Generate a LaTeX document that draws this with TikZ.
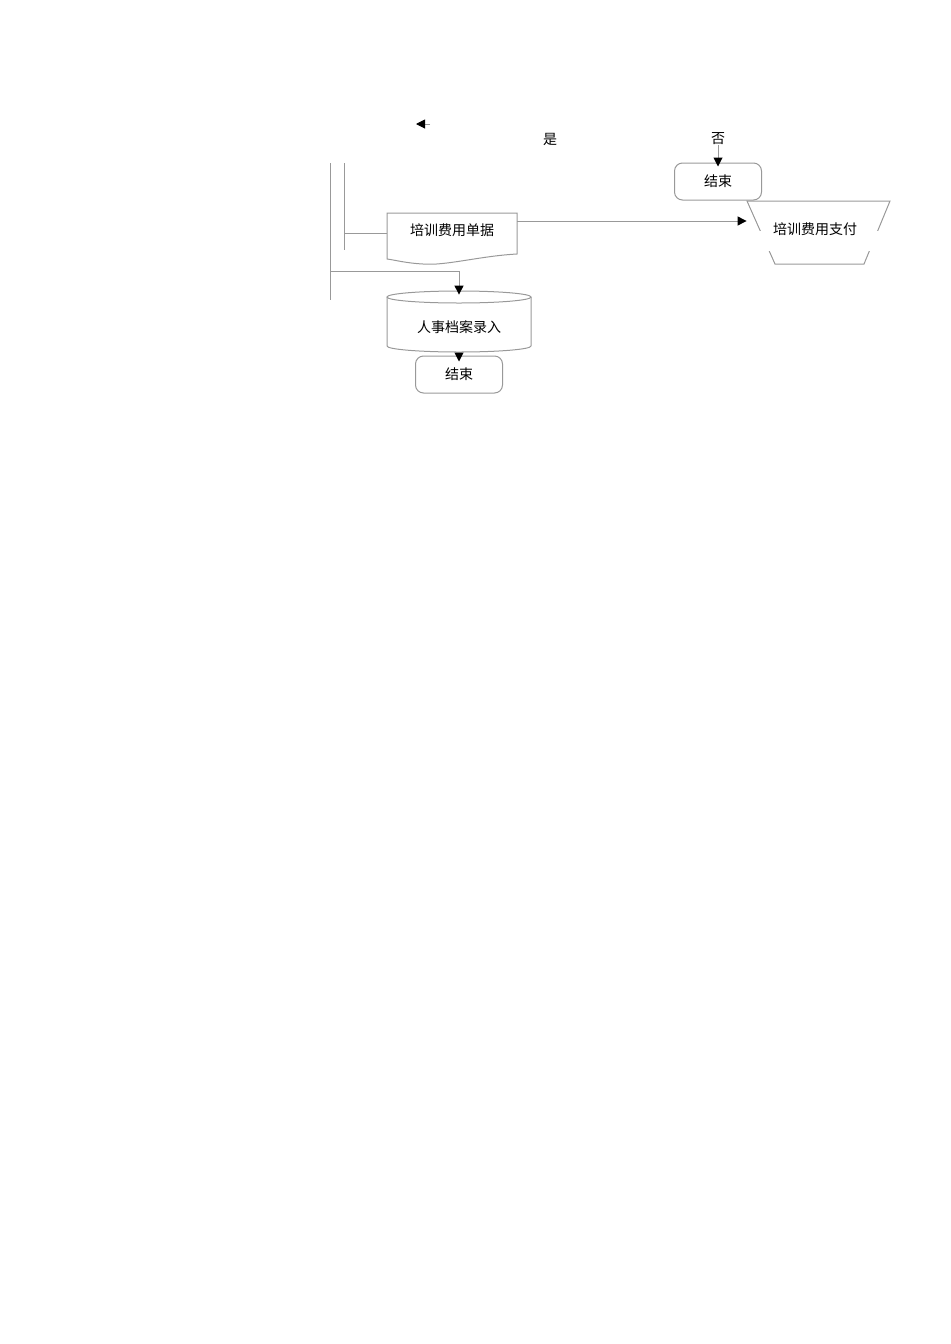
\documentclass[tikz,border=0pt]{standalone}
\usepackage{fontspec}
\newfontfamily\cjk{Noto Sans CJK SC}
\usetikzlibrary{arrows.meta,calc}
\begin{document}
\begin{tikzpicture}[x=0.5pt,y=-0.5pt,
  ln/.style={draw=black!40,line width=0.5pt},
  arr/.style={ln,-{Triangle[length=4.5pt,width=4.5pt,color=black]}},
  txt/.style={font=\cjk\fontsize{7pt}{8pt}\selectfont,inner sep=0pt,text=black},
  endbox/.style={ln,rounded corners=4pt,minimum width=43.5pt,minimum height=18.5pt,txt}]
\useasboundingbox (0,0) rectangle (950,1344);
% top stray arrow
\coordinate (ta) at (430,124);
\coordinate (tb) at (416,124);
\draw[arr] (ta) -- (tb);
% labels
\node[txt] (yes) at (550,139) {是};
\node[txt] (no) at (718,139) {否};
% end box top right
\node[endbox] (end1) at (718,181.5) {结束};
\draw[arr] (no.south) -- ([yshift=-2pt]end1.north);
% vertical lines
\coordinate (v1a) at (330,163);
\coordinate (v1b) at (330,300);
\coordinate (v2a) at (344,163);
\coordinate (v2b) at (344,250);
\draw[ln] (v1a) -- (v1b);
\draw[ln] (v2a) -- (v2b);
% document shape
\draw[ln] (387,213) -- (517,213) -- (517,254) .. controls (480,256) and (445,266) .. (423,264) .. controls (405,263) and (395,260) .. (387,259) -- cycle;
\node[txt,minimum width=65pt,minimum height=23pt] (doc) at (452,236) {};
\node[txt] (doct) at (452,230) {培训费用单据};
\coordinate (vb2) at (344,233);
\draw[ln] (vb2) -- (vb2 -| doc.west);
% trapezoid (manual operation)
\draw[ln] (747,201) -- (890,201) -- (864,264) -- (775,264) -- cycle;
\fill[white] (755,231) rectangle (882,251);
\node[txt,minimum width=71pt,minimum height=31pt] (pay) at (818,232) {};
\node[txt] (payt) at (815,229) {培训费用支付};
\coordinate (dr) at (517,221);
\draw[arr] (dr) -- (dr -| pay.west);
% cylinder
\draw[ln] (387,297) -- (387,346) arc[start angle=180,end angle=0,x radius=72,y radius=6] -- (531,297);
\draw[ln] (459,297) ellipse[x radius=72,y radius=6];
\node[txt,minimum width=72pt,minimum height=30pt] (db) at (459,322) {};
\node[txt] (dbt) at (459,327) {人事档案录入};
\coordinate (h1) at (330,271);
\draw[arr] (h1) -| ([yshift=-1.5pt]db.north);
% end box bottom
\node[endbox] (end2) at (459,374.5) {结束};
\draw[arr] ([yshift=-3pt]db.south) -- ([yshift=-3pt]end2.north);
\end{tikzpicture}
\end{document}
